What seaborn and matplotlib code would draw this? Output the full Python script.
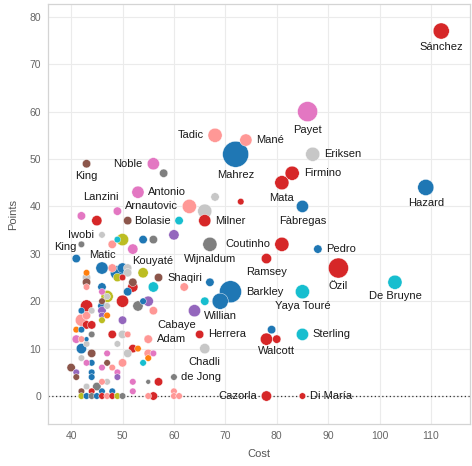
import numpy as np
import pandas as pd
import matplotlib
matplotlib.use('Agg')
import matplotlib.pyplot as plt
import seaborn as sns

# --- labelled players ---
named_player = ['Sánchez', 'Payet', 'Tadic', 'Mané', 'Mahrez', 'Eriksen', 'Firmino', 'Mata',
                'Fàbregas', 'Hazard', 'King', 'Noble', 'Antonio', 'Lanzini', 'Arnautovic',
                'Bolasie', 'Milner', 'Iwobi', 'King ', 'Matic', 'Kouyaté', 'Shaqiri',
                'Wijnaldum', 'Coutinho', 'Pedro', 'Ramsey', 'Özil', 'De Bruyne', 'Barkley',
                'Yaya Touré', 'Willian', 'Herrera', 'Chadli', 'de Jong', 'Sterling', 'Walcott',
                'Cazorla', 'Di María', 'Adam', 'Cabaye']
named_cost = [112, 86, 68, 74, 72, 87, 83, 81, 85, 109, 43, 56, 53, 49, 63,
              61, 66, 46, 41, 46, 54, 57, 67, 81, 88, 78, 92, 103, 71,
              85, 69, 65, 66, 60, 85, 80, 78, 85, 55, 55]
named_points = [77, 60, 55, 54, 51, 51, 47, 45, 40, 44, 49, 49, 43, 39, 40,
                37, 37, 34, 29, 27, 26, 25, 32, 32, 31, 29, 27, 24, 22,
                22, 20, 13, 10, 4, 13, 12, 0, 0, 12, 12]
named_sel = [64, 100, 49, 36, 169, 49, 49, 49, 36, 64, 16, 36, 36, 16, 49,
             16, 36, 9, 16, 36, 25, 16, 49, 49, 16, 25, 100, 49, 121,
             49, 64, 16, 25, 9, 36, 16, 25, 9, 16, 16]
named_team = ['R', 'P', 'S', 'S', 'B', 'L', 'R', 'R', 'B', 'B', 'N', 'P', 'P', 'P', 'S',
              'C', 'R', 'L', 'B', 'B', 'O', 'N', 'G', 'R', 'B', 'R', 'R', 'C', 'B',
              'C', 'B', 'R', 'L', 'G', 'C', 'R', 'R', 'R', 'S', 'S']

# --- other players (no label) ---
other_cost = [73, 58, 68, 66, 51, 45, 42, 60, 78, 79, 64, 66, 67, 62, 60, 60, 61,
              49, 50, 48, 52, 54, 56, 42, 48, 49, 50, 51, 51, 50, 49, 43, 43, 43, 43,
              52, 52, 56, 46, 51, 47, 47, 46, 50, 43, 42, 44, 53, 54, 55, 56, 46, 46,
              47, 46, 46, 46, 47, 42, 43, 43, 44, 41, 42, 44, 41, 42, 43, 50, 48, 50,
              51, 42, 43, 44, 42, 44, 47, 49, 52, 53, 51, 55, 56, 55, 54, 50, 47, 48,
              46, 49, 49, 40, 41, 41, 44, 44, 43, 47, 46, 52, 55, 57, 52, 42, 43, 44,
              45, 46, 48, 42, 43, 44, 45, 46, 47, 48, 49, 50, 55, 56]
other_points = [41, 47, 42, 39, 37, 37, 38, 34, 12, 14, 18, 20, 24, 23, 1, 0, 0,
                33, 33, 32, 31, 33, 33, 32, 27, 26, 27, 27, 26, 25, 25, 26, 25, 24, 23,
                24, 23, 23, 23, 22, 21, 21, 22, 20, 19, 18, 18, 19, 20, 20, 18, 20, 19,
                19, 18, 17, 16, 17, 16, 17, 15, 15, 14, 14, 13, 12, 12, 12, 16, 13, 13,
                13, 10, 11, 9, 8, 7, 9, 11, 10, 10, 9, 9, 9, 8, 7, 7, 7, 6,
                6, 5, 4, 6, 5, 4, 5, 4, 7, 3, 3, 3, 3, 3, 1, 1, 2, 1,
                2, 1, 1, 0, 0, 0, 0, 0, 0, 0, 0, 0, 0, 0]
other_sel = [9, 16, 16, 49, 16, 25, 16, 25, 36, 16, 36, 16, 16, 16, 9, 9, 9,
             9, 36, 16, 25, 16, 16, 9, 16, 49, 25, 16, 16, 9, 16, 9, 16, 16, 9,
             16, 25, 25, 16, 16, 9, 36, 9, 36, 36, 9, 9, 25, 9, 25, 16, 9, 16,
             9, 16, 9, 9, 9, 36, 16, 16, 16, 9, 9, 9, 16, 9, 4, 16, 16, 16,
             9, 25, 9, 16, 9, 9, 9, 9, 16, 9, 16, 16, 9, 9, 9, 16, 9, 9,
             9, 9, 9, 16, 9, 9, 9, 9, 9, 9, 9, 9, 4, 16, 9, 9, 9, 9,
             16, 9, 9, 9, 9, 9, 9, 9, 9, 9, 9, 9, 9, 16]
other_team = ['R', 'G', 'L', 'L', 'N', 'R', 'P', 'U', 'R', 'B', 'U', 'C', 'B', 'S', 'S', 'S', 'S',
              'C', 'O', 'S', 'P', 'B', 'G', 'G', 'S', 'B', 'B', 'L', 'L', 'R', 'O', 'A', 'L', 'N', 'S',
              'N', 'R', 'C', 'B', 'B', 'L', 'O', 'P', 'R', 'R', 'B', 'L', 'G', 'B', 'U', 'S', 'N', 'B',
              'L', 'U', 'U', 'O', 'A', 'S', 'S', 'R', 'R', 'A', 'B', 'G', 'P', 'S', 'B', 'U', 'R', 'L',
              'S', 'B', 'L', 'N', 'L', 'B', 'P', 'L', 'R', 'A', 'L', 'S', 'P', 'A', 'C', 'S', 'N', 'S',
              'P', 'P', 'U', 'N', 'U', 'N', 'B', 'B', 'P', 'L', 'S', 'P', 'G', 'R', 'P', 'N', 'L', 'R',
              'G', 'B', 'B', 'O', 'B', 'G', 'B', 'R', 'S', 'R', 'O', 'G', 'S', 'R']

team_colours = {'B': '#1f77b4', 'R': '#d62728', 'S': '#ff9896', 'P': '#e377c2',
                'N': '#8c564b', 'G': '#7f7f7f', 'L': '#c7c7c7', 'O': '#bcbd22',
                'C': '#17becf', 'U': '#9467bd', 'A': '#ff7f0e'}

# label placement: (mode, distance px) or ('xy', dx px, dy px)
label_pos = {'Sánchez': ('below', 16), 'Payet': ('below', 18), 'Tadic': ('left',),
             'Mané': ('right',), 'Mahrez': ('below', 21), 'Eriksen': ('right',),
             'Firmino': ('right',), 'Mata': ('below', 15), 'Fàbregas': ('below', 15),
             'Hazard': ('below', 16), 'King': ('below', 12), 'Noble': ('left',),
             'Antonio': ('right',), 'Lanzini': ('xy', -17, -14), 'Arnautovic': ('left',),
             'Bolasie': ('left',), 'Milner': ('right',), 'Iwobi': ('left',),
             'King ': ('xy', -11, -12), 'Matic': ('below', -13), 'Kouyaté': ('xy', 10, -12),
             'Shaqiri': ('right',), 'Wijnaldum': ('below', 15), 'Coutinho': ('left',),
             'Pedro': ('right',), 'Ramsey': ('below', 13), 'Özil': ('below', 18),
             'De Bruyne': ('below', 14), 'Barkley': ('right',), 'Yaya Touré': ('below', 14),
             'Willian': ('below', 15), 'Herrera': ('right',), 'Chadli': ('below', 13),
             'de Jong': ('right',), 'Sterling': ('right',), 'Walcott': ('below', 12),
             'Cazorla': ('left',), 'Di María': ('right',), 'Adam': ('right',),
             'Cabaye': ('xyl', 9, -14)}

df = pd.DataFrame({
    'Player': named_player + [''] * len(other_cost),
    'Cost': named_cost + other_cost,
    'Points': named_points + other_points,
    'Sel': named_sel + other_sel,
    'Team': named_team + other_team,
})
df = df.sort_values('Sel', ascending=False, kind='stable')

sns.set_theme(style='white')
plt.rcParams['font.family'] = ['Liberation Sans', 'DejaVu Sans']

fig = plt.figure(figsize=(4.72, 4.66), dpi=100)
ax = fig.add_axes([48 / 472, 42 / 466, 422 / 472, 420 / 466])

ax.axhline(0, color='#333333', lw=0.9, ls=(0, (1, 2)), zorder=1)

sns.scatterplot(data=df, x='Cost', y='Points', hue='Team', palette=team_colours,
                size='Sel', sizes=(12, 350), size_norm=(4, 169),
                linewidth=0.3, edgecolor='white', alpha=1, legend=False, ax=ax, zorder=3)

px = 0.72
for name, c, p, s in zip(named_player, named_cost, named_points, named_sel):
    pos = label_pos[name]
    r = np.sqrt(s) + 0.5
    if pos[0] == 'below':
        off, ha = (0, -pos[1] * px), 'center'
    elif pos[0] == 'left':
        off, ha = (-(r + 4) * px, 0), 'right'
    elif pos[0] == 'right':
        off, ha = ((r + 4) * px, 0), 'left'
    elif pos[0] == 'xyl':
        off, ha = (pos[1] * px, -pos[2] * px), 'left'
    else:
        off, ha = (pos[1] * px, -pos[2] * px), 'center'
    ax.annotate(name.strip(), (c, p), xytext=off, textcoords='offset points',
                ha=ha, va='center', fontsize=8, color='#1a1a1a', zorder=4)

ax.set_xlim(35.5, 117.6)
ax.set_ylim(-5.9, 82.7)
ax.set_xticks(range(40, 111, 10))
ax.set_yticks(range(0, 81, 10))
ax.grid(True, color='#ebebeb', lw=0.8, zorder=0)
ax.set_axisbelow(True)
for sp in ax.spines.values():
    sp.set_color('#d4d4d4')
    sp.set_linewidth(0.9)
ax.tick_params(length=0, labelsize=7.5, labelcolor='#666666', pad=5)
ax.set_xlabel('Cost', fontsize=8, color='#555555', labelpad=6)
ax.set_ylabel('Points', fontsize=8, color='#555555', labelpad=8)

fig.savefig('out.png', dpi=100)
